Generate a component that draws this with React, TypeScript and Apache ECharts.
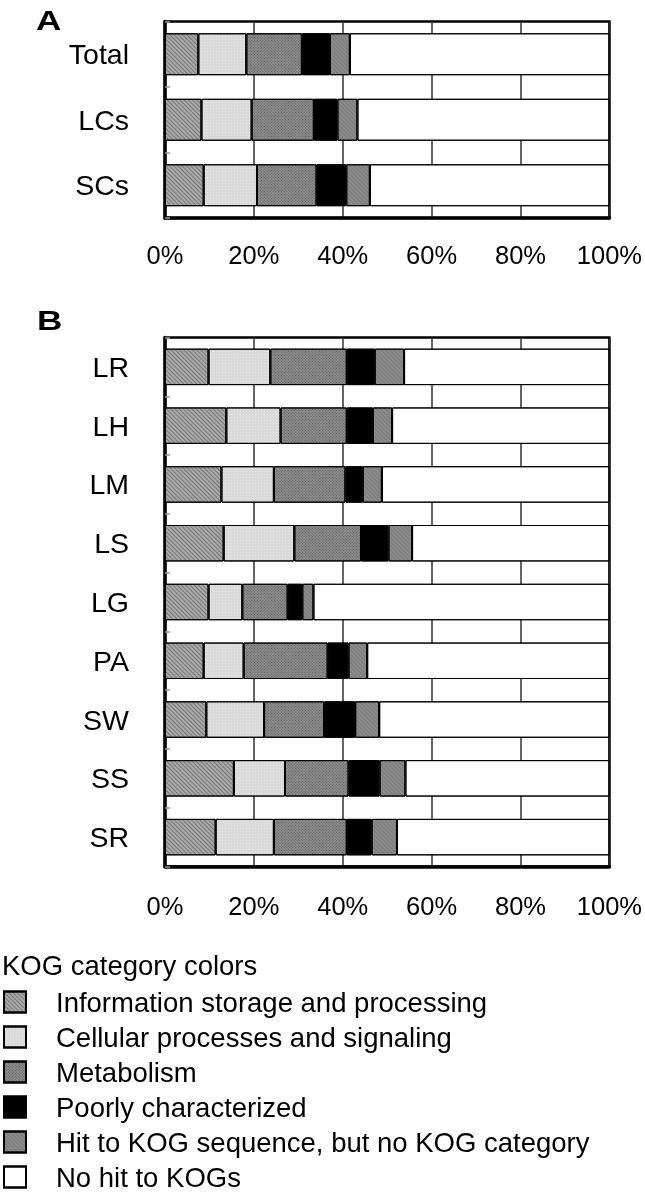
import React, { useEffect, useRef } from "react";
import * as echarts from "echarts";

const categoriesA = ["Total", "LCs", "SCs"];
const categoriesB = ["LR", "LH", "LM", "LS", "LG", "PA", "SW", "SS", "SR"];
const seriesNames = [
  "Information storage and processing",
  "Cellular processes and signaling",
  "Metabolism",
  "Poorly characterized",
  "Hit to KOG sequence, but no KOG category",
  "No hit to KOGs",
];
const tickLabels = ["0%", "20%", "40%", "60%", "80%", "100%"];

// Panel A values (% of sequences)
const infoA = [7.5, 8.2, 8.7];
const cellA = [10.8, 11.3, 12.0];
const metabA = [12.5, 14.0, 13.4];
const poorA = [6.3, 5.3, 6.7];
const hitA = [4.5, 4.5, 5.3];
const noHitA = [58.4, 56.7, 53.9];

// Panel B values (% of sequences)
const infoB = [9.8, 13.8, 12.7, 13.2, 9.8, 8.7, 9.3, 15.5, 11.4];
const cellB = [13.9, 12.2, 11.8, 15.9, 7.6, 9.0, 13.0, 11.5, 13.1];
const metabB = [17.2, 14.9, 16.1, 15.0, 10.2, 18.9, 13.5, 14.3, 16.4];
const poorB = [6.3, 5.9, 3.9, 6.2, 3.3, 4.7, 7.0, 7.0, 5.6];
const hitB = [6.6, 4.3, 4.3, 5.3, 2.5, 4.2, 5.4, 5.8, 5.7];
const noHitB = [46.2, 48.9, 51.2, 44.4, 66.6, 54.5, 51.8, 45.9, 47.8];

const FONT = "'Liberation Sans', Arial, Helvetica, sans-serif";

const colors = ["#a8a8a8", "#dadada", "#8e8e8e", "#000000", "#808080", "#ffffff"];
const decals: any[] = [
  { symbol: "rect", symbolSize: 1, color: "rgba(50,50,50,0.4)", dashArrayX: [1, 0], dashArrayY: [1, 1.5], rotation: Math.PI / 4 },
  { symbol: "rect", symbolSize: 1, color: "rgba(255,255,255,0.35)", dashArrayX: [1, 2], dashArrayY: [1, 2], rotation: 0 },
  { symbol: "rect", symbolSize: 1, color: "rgba(30,30,30,0.45)", dashArrayX: [1, 1], dashArrayY: [1, 1], rotation: Math.PI / 4 },
  { symbol: "rect", symbolSize: 1, color: "rgba(0,0,0,0)", dashArrayX: [1, 0], dashArrayY: [1, 0], rotation: 0 },
  { symbol: "rect", symbolSize: 1, color: "rgba(255,255,255,0.12)", dashArrayX: [1, 0], dashArrayY: [1, 2], rotation: Math.PI / 4 },
  { symbol: "rect", symbolSize: 1, color: "rgba(0,0,0,0)", dashArrayX: [1, 0], dashArrayY: [1, 0], rotation: 0 },
];

export default function App() {
  const ref = useRef<HTMLDivElement>(null);
  useEffect(() => {
    if (!ref.current) return;
    const chart = echarts.init(ref.current, null, { renderer: "svg" });
    const dataA = [infoA, cellA, metabA, poorA, hitA, noHitA];
    const dataB = [infoB, cellB, metabB, poorB, hitB, noHitB];

    const xAxisCommon = (gridIndex: number, margin: number) => ({
      type: "value",
      gridIndex,
      min: 0,
      max: 100,
      interval: 20,
      axisLine: { show: true, lineStyle: { color: "#000", width: 3.5 } },
      axisTick: { show: false },
      splitLine: { show: true, lineStyle: { color: "#333", width: 1.5 } },
      axisLabel: {
        margin,
        color: "#000",
        fontSize: 25.5,
        fontFamily: FONT,
        formatter: (v: number) => tickLabels[Math.round(v / 20)],
      },
    });
    const yAxisCommon = (gridIndex: number, data: string[]) => ({
      type: "category",
      gridIndex,
      data,
      inverse: true,
      axisLine: { show: true, lineStyle: { color: "#000", width: 3.5 } },
      axisTick: { show: true, inside: true, length: 5, lineStyle: { color: "#999", width: 1.5 } },
      axisLabel: { margin: 36, color: "#000", fontSize: 28.5, fontFamily: FONT },
    });

    const series: any[] = [];
    seriesNames.forEach((name, i) => {
      series.push({
        name,
        type: "bar",
        xAxisIndex: 0,
        yAxisIndex: 0,
        stack: "A",
        barCategoryGap: "36%",
        data: dataA[i],
        itemStyle: { color: colors[i], borderColor: "#000", borderWidth: 1, decal: decals[i] },
      });
      series.push({
        name,
        type: "bar",
        xAxisIndex: 1,
        yAxisIndex: 1,
        stack: "B",
        barCategoryGap: "38%",
        data: dataB[i],
        itemStyle: { color: colors[i], borderColor: "#000", borderWidth: 1, decal: decals[i] },
      });
    });

    chart.setOption({
      animation: false,
      aria: { enabled: true, decal: { show: true } },
      grid: [
        { left: 165, top: 21.5, width: 447, height: 196.5, show: true, borderColor: "#000", borderWidth: 2.5, containLabel: false },
        { left: 165, top: 337.5, width: 447.5, height: 529, show: true, borderColor: "#000", borderWidth: 2.5, containLabel: false },
      ],
      xAxis: [xAxisCommon(0, 24), xAxisCommon(1, 26)],
      yAxis: [yAxisCommon(0, categoriesA), yAxisCommon(1, categoriesB)],
      legend: {
        data: seriesNames,
        orient: "vertical",
        left: 3,
        top: 988,
        padding: 0,
        icon: "rect",
        itemWidth: 22,
        itemHeight: 21,
        itemGap: 7,
        selectedMode: false,
        textStyle: { color: "#000", fontSize: 27.5, fontFamily: FONT, lineHeight: 28, padding: [0, 0, 0, 25] },
      },
      graphic: [
        { type: "text", x: 36, y: 7, scaleX: 1.3, style: { text: "A", fontSize: 27, fontWeight: "bold", fontFamily: FONT, fill: "#000" } },
        { type: "text", x: 37, y: 307, scaleX: 1.3, style: { text: "B", fontSize: 27, fontWeight: "bold", fontFamily: FONT, fill: "#000" } },
        { type: "text", left: 2, top: 951, style: { text: "KOG category colors", fontSize: 27.5, fontFamily: FONT, fill: "#000" } },
      ],
      series,
    });
    return () => chart.dispose();
  }, []);
  return <div ref={ref} style={{ position: "fixed", left: 0, top: 0, width: 645, height: 1199 }} />;
}
